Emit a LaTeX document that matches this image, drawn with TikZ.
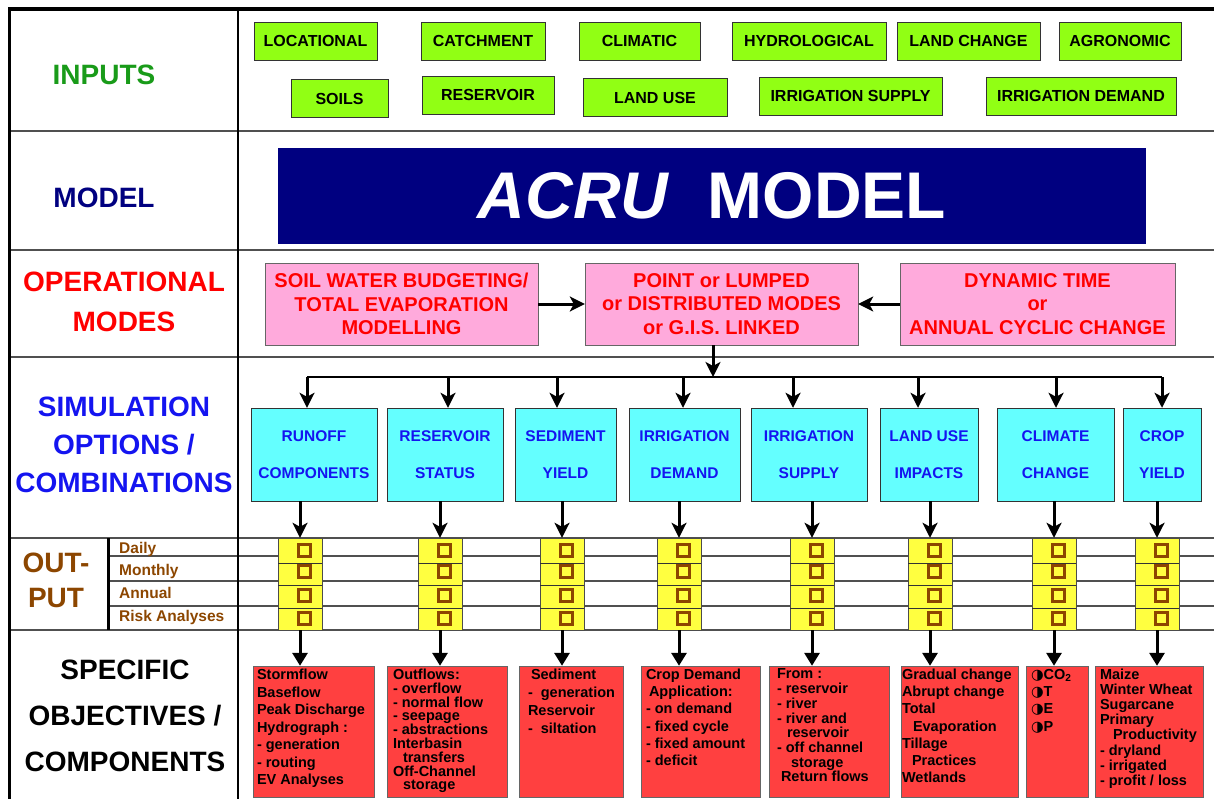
\documentclass[tikz,border=0pt]{standalone}
\usepackage{fontspec}
\setmainfont{Liberation Sans}
\newfontfamily\symfont{DejaVu Sans}
\usetikzlibrary{positioning, shapes, arrows.meta}

\definecolor{inputgreen}{RGB}{145,255,20}
\definecolor{labelgreen}{RGB}{25,155,25}
\definecolor{modelnavy}{RGB}{0,0,128}
\definecolor{modepink}{RGB}{255,170,220}
\definecolor{simcyan}{RGB}{100,255,255}
\definecolor{simblue}{RGB}{20,20,240}
\definecolor{outyellow}{RGB}{255,255,64}
\definecolor{outbrown}{RGB}{140,70,0}
\definecolor{objred}{RGB}{255,64,64}
\definecolor{gridgray}{RGB}{80,80,80}

\tikzset{
rowlabel/.style={font=\fontsize{28}{40}\selectfont\bfseries, align=center, inner sep=0},
inbox/.style={draw=black!80, fill=inputgreen, font=\fontsize{16}{18}\selectfont\bfseries, minimum height=38, inner sep=0},
modebox/.style={draw=black!60, fill=modepink, text=red, font=\fontsize{20}{23.5}\selectfont\bfseries, align=center, minimum width=273, minimum height=82, inner sep=0},
simbox/.style={draw=black!80, fill=simcyan, text=simblue, font=\fontsize{15.5}{37}\selectfont\bfseries, align=center, minimum height=93, inner sep=0},
outcol/.style={draw=black!70, fill=outyellow, minimum width=44, minimum height=92, inner sep=0},
outsq/.style={draw=outbrown, line width=3pt, minimum size=12, inner sep=0},
objbox/.style={draw=black!60, fill=objred, minimum height=131, inner sep=0},
objtext/.style={anchor=north west, inner sep=0, align=left},
arr/.style={line width=3pt, -{Stealth[length=15pt,width=15pt,inset=4pt]}},
tri/.style={line width=3pt, -{Triangle[length=13pt,width=15pt]}},
tableline/.style={draw=gridgray, line width=1.2pt}
}

\begin{document}
\begin{tikzpicture}[x=1pt, y=-1pt]
\useasboundingbox (0,0) rectangle (1214,799);

% table
\foreach \y in {131,250,357,538,630}
\draw[tableline] (9,\y) -- (1214,\y);
\foreach \y in {556,581,606}
\draw[tableline] (110,\y) -- (1214,\y);
\draw[line width=1.2pt] (238,10) -- (238,799);
\draw[line width=3pt] (108.5,538) -- (108.5,630);
\draw[line width=4pt] (8,9) -- (1214,9);
\draw[line width=3pt] (9.5,9) -- (9.5,799);

% row labels
\node[rowlabel, text=labelgreen] (lblinputs) at (104,75) {INPUTS};
\node[rowlabel, text=modelnavy] (lblmodel) at (104,198) {MODEL};
\node[rowlabel, text=red] (lblmodes) at (124,302) {OPERATIONAL\\MODES};
\node[rowlabel, text=simblue, font=\fontsize{28}{38}\selectfont\bfseries] (lblsim) at (124,445) {SIMULATION\\OPTIONS /\\COMBINATIONS};
\node[rowlabel, text=outbrown, font=\fontsize{28}{35}\selectfont\bfseries] (lblout) at (56,580) {OUT-\\PUT};
\node[rowlabel, font=\fontsize{28}{46}\selectfont\bfseries] (lblobj) at (125,716) {SPECIFIC\\OBJECTIVES /\\COMPONENTS};
\foreach \n/\y/\t in {daily/549/Daily, monthly/571/Monthly, annual/593/Annual, risk/617/Risk Analyses}
\node[anchor=west, text=outbrown, font=\fontsize{15.5}{17}\selectfont\bfseries, inner sep=0] (lbl\n) at (119,\y) {\t};

% inputs
\foreach \n/\x/\y/\w/\t in {locational/315.5/41/123/LOCATIONAL, catchment/483/41/124/CATCHMENT,
climatic/639.5/41/121/CLIMATIC, hydrological/809/41/154/HYDROLOGICAL, landchange/968.5/41/143/LAND CHANGE,
agronomic/1120/41/122/AGRONOMIC, soils/339.5/98.5/97/SOILS, reservoir/488/95/132/RESERVOIR,
landuse/655/97.5/144/LAND USE, irrsupply/850.5/96/183/IRRIGATION SUPPLY, irrdemand/1081/96/190/IRRIGATION DEMAND}
\node[inbox, minimum width=\w] (in\n) at (\x,\y) {\t};

% model
\node[fill=modelnavy, minimum width=868, minimum height=96, text=white, font=\fontsize{66}{70}\selectfont\bfseries] (model) at (712,196) {\textit{ACRU}\hspace{0.3em} MODEL};

% operational modes
\node[modebox] (mode1) at (401.5,304) {SOIL WATER BUDGETING/\\TOTAL EVAPORATION\\MODELLING};
\node[modebox] (mode2) at (721.5,304) {POINT or LUMPED\\or DISTRIBUTED MODES\\or G.I.S. LINKED};
\node[modebox, minimum width=275] (mode3) at (1037.5,304) {DYNAMIC TIME\\or\\ANNUAL CYCLIC CHANGE};
\draw[arr] (mode1) -- (mode2);
\draw[arr] (mode3) -- (mode2);

% simulation options
\coordinate (busmid) at (713,377);
\draw[arr] (busmid |- mode2.south) -- (busmid);
\foreach \i/\x in {1/307, 2/448, 3/557, 4/683, 5/793, 6/918, 7/1056, 8/1162}
\coordinate (bus\i) at (\x,377);
\draw[line width=1.5pt] (bus1) -- (bus8);
\foreach \i/\x/\w/\t in {1/314/126/{RUNOFF\\COMPONENTS}, 2/445/116/{RESERVOIR\\STATUS},
3/565.5/101/{SEDIMENT\\YIELD}, 4/684.5/111/{IRRIGATION\\DEMAND}, 5/809/116/{IRRIGATION\\SUPPLY},
6/929/98/{LAND USE\\IMPACTS}, 7/1055.5/117/{CLIMATE\\CHANGE}, 8/1162/78/{CROP\\YIELD}}
{
\node[simbox, minimum width=\w] (sim\i) at (\x,454.5) {\t};
\draw[arr] (bus\i) -- (bus\i |- sim\i.north);
}

% output columns
\foreach \i/\x in {1/300, 2/440, 3/562, 4/679, 5/812, 6/930, 7/1054, 8/1157}
{
\node[outcol] (col\i) at (\x,584) {};
\foreach \y in {563,585,608}
\draw[black!80] (\x-22,\y) -- (\x+22,\y);
\foreach \j/\y in {1/550, 2/571, 3/595, 4/618}
\node[outsq] (sq\i\j) at (\x+4,\y) {};
\draw[arr] (col\i.north |- sim\i.south) -- (col\i.north);
}

% specific objectives
\foreach \i/\x/\w in {1/313.5/121, 2/447/120, 3/571/104, 4/700.5/119, 5/829/120, 6/959.5/117, 7/1057/62, 8/1149/108}
{
\node[objbox, minimum width=\w] (obj\i) at (\x,731.5) {};
\draw[tri] (col\i.south) -- (col\i.south |- obj\i.north);
}
\foreach \i/\dx/\pitch/\t in {
1/4/17.5/{Stormflow\\Baseflow\\Peak Discharge\\Hydrograph :\\- generation\\- routing\\EV Analyses},
2/6/13.8/{Outflows:\\- overflow\\- normal flow\\- seepage\\- abstractions\\Interbasin\\\hspace*{10pt}transfers\\Off-Channel\\\hspace*{10pt}storage},
3/9/18/{\hspace*{3pt}Sediment\\-\ \ generation\\Reservoir\\-\ \ siltation},
4/5/17.2/{Crop Demand\\\hspace*{3pt}Application:\\- on demand\\- fixed cycle\\- fixed amount\\- deficit},
5/8/14.7/{From :\\- reservoir\\- river\\- river and\\\hspace*{10pt}reservoir\\- off channel\\\hspace*{14pt}storage\\\hspace*{4pt}Return flows},
6/1/17.2/{Gradual change\\Abrupt change\\Total\\\hspace*{11pt}Evaporation\\Tillage\\\hspace*{10pt}Practices\\Wetlands},
7/5/17.3/{{\symfont ◑}CO\textsubscript{2}\\{\symfont ◑}T\\{\symfont ◑}E\\{\symfont ◑}P},
8/5/15.1/{Maize\\Winter Wheat\\Sugarcane\\Primary\\\hspace*{13pt}Productivity\\- dryland\\- irrigated\\- profit / loss}}
\node[objtext, font=\fontsize{14.5}{\pitch}\selectfont\bfseries] (objtext\i) at ([shift={(\dx,3)}]obj\i.north west) {\t};
\end{tikzpicture}
\end{document}
